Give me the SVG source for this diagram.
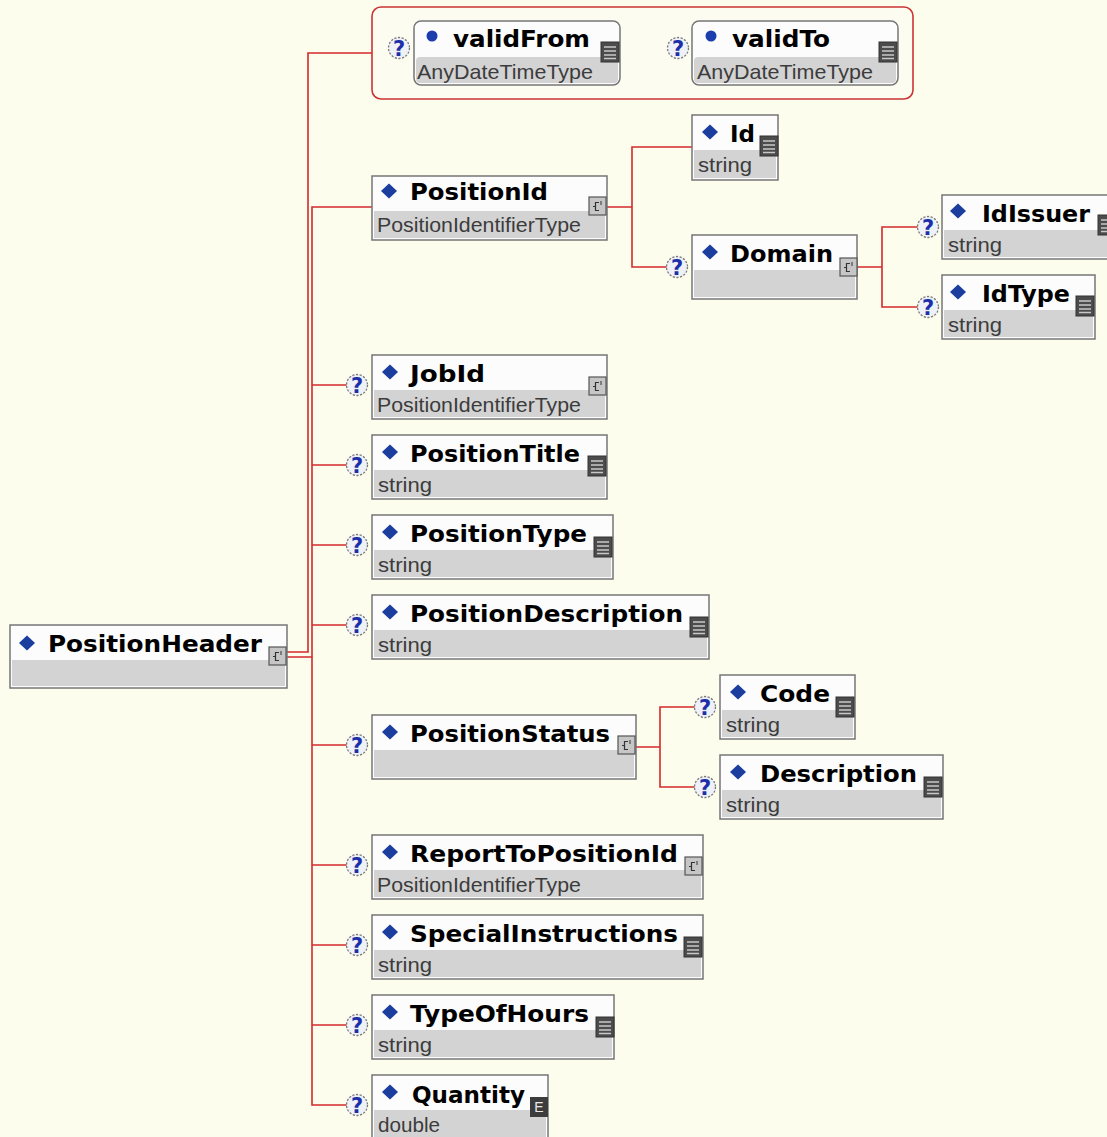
<svg xmlns="http://www.w3.org/2000/svg" width="1107" height="1137" viewBox="0 0 1107 1137">
<style>
.bg{fill:#fdfdee}
.bx{fill:#fcfcfc;stroke:#767676;stroke-width:1.5}
.gr{fill:#d3d3d3}
.nm{font-family:"DejaVu Sans",Verdana,sans-serif;font-weight:bold;font-size:23px;fill:#000}
.ty{font-family:"Liberation Sans",Arial,sans-serif;font-size:21px;fill:#3c3c3c}
.cn{fill:none;stroke:#d22a2a;stroke-width:1.6}
.qc{fill:#eef1f8;stroke:#7a7a7a;stroke-width:1.3;stroke-dasharray:2.2 1.5}
.qt{font-family:"DejaVu Sans",Verdana,sans-serif;font-weight:bold;font-size:21px;fill:#1d2fa8;text-anchor:middle}
.et{font-family:"Liberation Sans",Arial,sans-serif;font-size:14px;fill:#e8e8e8;text-anchor:middle}
</style>
<defs>
<path id="dia" d="M0,-7.5 L8,0 L0,7.5 L-8,0Z" fill="#1b3d9e"/>
<circle id="bul" r="5.5" fill="#1b3dae"/>
<g id="doc"><rect x="0" y="0" width="18" height="20" fill="#4c4c4c" stroke="#333" stroke-width="1"/><path d="M3,5H15M3,9H15M3,13H15M3,16.5H15" stroke="#c8c8c8" stroke-width="1.3"/></g>
<g id="cpx"><rect x="0" y="0" width="17" height="18" fill="#c6c6c6" stroke="#555" stroke-width="1.2"/><path d="M10,5.5H6.5V13.5H10M6.5,9.5H4" fill="none" stroke="#333" stroke-width="1.2"/><path d="M11,5H13M11,7H13" stroke="#333" stroke-width="1"/></g>
<circle id="qc" r="10.5" class="qc"/>
</defs>
<rect class="bg" x="0" y="0" width="1107" height="1137"/>

<g id="connectors">
<path class="cn" d="M287,652H308V53H372"/>
<path class="cn" d="M287,657H312V207H372"/>
<path class="cn" d="M312,657V1105H347"/>
<path class="cn" d="M312,385H347M312,465H347M312,545H347M312,625H347M312,745H347M312,865H347M312,945H347M312,1025H347"/>
<path class="cn" d="M606,207H632V147H692M632,207V267H667"/>
<path class="cn" d="M857,267H882V227H918M882,267V307H918"/>
<path class="cn" d="M636,747H660V707H695M660,747V787H695"/>
</g>

<g id="attributes">
<rect x="372" y="7" width="541" height="92" rx="9" fill="#fdfcf0" stroke="#cc3333" stroke-width="1.6"/>
</g>

<g id="validFrom">
<use href="#qc" x="399" y="48"/><text class="qt" x="399" y="56">?</text>
<rect class="bx" x="414" y="21" width="206" height="64" rx="7"/>
<rect class="gr" x="416" y="57" width="202" height="26" rx="4"/>
<use href="#bul" x="432" y="36"/>
<text class="nm" x="453" y="47" textLength="137" lengthAdjust="spacingAndGlyphs">validFrom</text>
<text class="ty" x="417" y="79" textLength="176" lengthAdjust="spacingAndGlyphs">AnyDateTimeType</text>
<use href="#doc" x="601" y="42"/>
</g>

<g id="validTo">
<use href="#qc" x="678" y="48"/><text class="qt" x="678" y="56">?</text>
<rect class="bx" x="692" y="21" width="206" height="64" rx="7"/>
<rect class="gr" x="694" y="57" width="202" height="26" rx="4"/>
<use href="#bul" x="711" y="36"/>
<text class="nm" x="732" y="47" textLength="98" lengthAdjust="spacingAndGlyphs">validTo</text>
<text class="ty" x="697" y="79" textLength="176" lengthAdjust="spacingAndGlyphs">AnyDateTimeType</text>
<use href="#doc" x="879" y="42"/>
</g>

<g id="PositionHeader">
<rect class="bx" x="10" y="625" width="277" height="63"/>
<rect class="gr" x="12" y="660" width="273" height="26"/>
<use href="#dia" x="27" y="643"/>
<text class="nm" x="48" y="652" textLength="214" lengthAdjust="spacingAndGlyphs">PositionHeader</text>
<use href="#cpx" x="269" y="647"/>
</g>

<g id="PositionId">
<rect class="bx" x="372" y="176" width="235" height="64"/>
<rect class="gr" x="374" y="211" width="231" height="27"/>
<use href="#dia" x="389" y="191"/>
<text class="nm" x="410" y="200" textLength="138" lengthAdjust="spacingAndGlyphs">PositionId</text>
<text class="ty" x="377" y="232" textLength="204" lengthAdjust="spacingAndGlyphs">PositionIdentifierType</text>
<use href="#cpx" x="589" y="197"/>
</g>

<g id="Id">
<rect class="bx" x="692" y="115" width="86" height="65"/>
<rect class="gr" x="694" y="150" width="82" height="28"/>
<use href="#dia" x="710" y="132"/>
<text class="nm" x="730" y="142" textLength="25" lengthAdjust="spacingAndGlyphs">Id</text>
<text class="ty" x="698" y="172" textLength="54" lengthAdjust="spacingAndGlyphs">string</text>
<use href="#doc" x="760" y="136"/>
</g>

<g id="Domain">
<use href="#qc" x="677" y="267"/><text class="qt" x="677" y="275">?</text>
<rect class="bx" x="692" y="235" width="165" height="64"/>
<rect class="gr" x="694" y="270" width="161" height="27"/>
<use href="#dia" x="710" y="252"/>
<text class="nm" x="730" y="262" textLength="103" lengthAdjust="spacingAndGlyphs">Domain</text>
<use href="#cpx" x="840" y="258"/>
</g>

<g id="IdIssuer">
<use href="#qc" x="928" y="227"/><text class="qt" x="928" y="235">?</text>
<rect class="bx" x="942" y="195" width="172" height="64"/>
<rect class="gr" x="944" y="230" width="168" height="27"/>
<use href="#dia" x="958" y="211"/>
<text class="nm" x="982" y="222" textLength="108" lengthAdjust="spacingAndGlyphs">IdIssuer</text>
<text class="ty" x="948" y="252" textLength="54" lengthAdjust="spacingAndGlyphs">string</text>
<use href="#doc" x="1098" y="215"/>
</g>

<g id="IdType">
<use href="#qc" x="928" y="307"/><text class="qt" x="928" y="315">?</text>
<rect class="bx" x="942" y="275" width="153" height="64"/>
<rect class="gr" x="944" y="310" width="149" height="27"/>
<use href="#dia" x="958" y="292"/>
<text class="nm" x="982" y="302" textLength="88" lengthAdjust="spacingAndGlyphs">IdType</text>
<text class="ty" x="948" y="332" textLength="54" lengthAdjust="spacingAndGlyphs">string</text>
<use href="#doc" x="1076" y="296"/>
</g>

<g id="JobId">
<use href="#qc" x="357" y="385"/><text class="qt" x="357" y="393">?</text>
<rect class="bx" x="372" y="355" width="235" height="64"/>
<rect class="gr" x="374" y="390" width="231" height="27"/>
<use href="#dia" x="390" y="372"/>
<text class="nm" x="410" y="382" textLength="75" lengthAdjust="spacingAndGlyphs">JobId</text>
<text class="ty" x="377" y="412" textLength="204" lengthAdjust="spacingAndGlyphs">PositionIdentifierType</text>
<use href="#cpx" x="589" y="377"/>
</g>

<g id="PositionTitle">
<use href="#qc" x="357" y="465"/><text class="qt" x="357" y="473">?</text>
<rect class="bx" x="372" y="435" width="235" height="64"/>
<rect class="gr" x="374" y="470" width="231" height="27"/>
<use href="#dia" x="390" y="452"/>
<text class="nm" x="410" y="462" textLength="170" lengthAdjust="spacingAndGlyphs">PositionTitle</text>
<text class="ty" x="378" y="492" textLength="54" lengthAdjust="spacingAndGlyphs">string</text>
<use href="#doc" x="588" y="456"/>
</g>

<g id="PositionType">
<use href="#qc" x="357" y="545"/><text class="qt" x="357" y="553">?</text>
<rect class="bx" x="372" y="515" width="241" height="64"/>
<rect class="gr" x="374" y="550" width="237" height="27"/>
<use href="#dia" x="390" y="532"/>
<text class="nm" x="410" y="542" textLength="177" lengthAdjust="spacingAndGlyphs">PositionType</text>
<text class="ty" x="378" y="572" textLength="54" lengthAdjust="spacingAndGlyphs">string</text>
<use href="#doc" x="594" y="537"/>
</g>

<g id="PositionDescription">
<use href="#qc" x="357" y="625"/><text class="qt" x="357" y="633">?</text>
<rect class="bx" x="372" y="595" width="337" height="64"/>
<rect class="gr" x="374" y="630" width="333" height="27"/>
<use href="#dia" x="390" y="612"/>
<text class="nm" x="410" y="622" textLength="273" lengthAdjust="spacingAndGlyphs">PositionDescription</text>
<text class="ty" x="378" y="652" textLength="54" lengthAdjust="spacingAndGlyphs">string</text>
<use href="#doc" x="690" y="617"/>
</g>

<g id="PositionStatus">
<use href="#qc" x="357" y="745"/><text class="qt" x="357" y="753">?</text>
<rect class="bx" x="372" y="715" width="264" height="64"/>
<rect class="gr" x="374" y="750" width="260" height="27"/>
<use href="#dia" x="390" y="732"/>
<text class="nm" x="410" y="742" textLength="200" lengthAdjust="spacingAndGlyphs">PositionStatus</text>
<use href="#cpx" x="618" y="736"/>
</g>

<g id="Code">
<use href="#qc" x="705" y="707"/><text class="qt" x="705" y="715">?</text>
<rect class="bx" x="720" y="675" width="135" height="64"/>
<rect class="gr" x="722" y="710" width="131" height="27"/>
<use href="#dia" x="738" y="692"/>
<text class="nm" x="760" y="702" textLength="70" lengthAdjust="spacingAndGlyphs">Code</text>
<text class="ty" x="726" y="732" textLength="54" lengthAdjust="spacingAndGlyphs">string</text>
<use href="#doc" x="836" y="697"/>
</g>

<g id="Description">
<use href="#qc" x="705" y="787"/><text class="qt" x="705" y="795">?</text>
<rect class="bx" x="720" y="755" width="223" height="64"/>
<rect class="gr" x="722" y="790" width="219" height="27"/>
<use href="#dia" x="738" y="772"/>
<text class="nm" x="760" y="782" textLength="157" lengthAdjust="spacingAndGlyphs">Description</text>
<text class="ty" x="726" y="812" textLength="54" lengthAdjust="spacingAndGlyphs">string</text>
<use href="#doc" x="924" y="777"/>
</g>

<g id="ReportToPositionId">
<use href="#qc" x="357" y="865"/><text class="qt" x="357" y="873">?</text>
<rect class="bx" x="372" y="835" width="331" height="64"/>
<rect class="gr" x="374" y="870" width="327" height="27"/>
<use href="#dia" x="390" y="852"/>
<text class="nm" x="410" y="862" textLength="268" lengthAdjust="spacingAndGlyphs">ReportToPositionId</text>
<text class="ty" x="377" y="892" textLength="204" lengthAdjust="spacingAndGlyphs">PositionIdentifierType</text>
<use href="#cpx" x="685" y="857"/>
</g>

<g id="SpecialInstructions">
<use href="#qc" x="357" y="945"/><text class="qt" x="357" y="953">?</text>
<rect class="bx" x="372" y="915" width="331" height="64"/>
<rect class="gr" x="374" y="950" width="327" height="27"/>
<use href="#dia" x="390" y="932"/>
<text class="nm" x="410" y="942" textLength="268" lengthAdjust="spacingAndGlyphs">SpecialInstructions</text>
<text class="ty" x="378" y="972" textLength="54" lengthAdjust="spacingAndGlyphs">string</text>
<use href="#doc" x="684" y="937"/>
</g>

<g id="TypeOfHours">
<use href="#qc" x="357" y="1025"/><text class="qt" x="357" y="1033">?</text>
<rect class="bx" x="372" y="995" width="242" height="64"/>
<rect class="gr" x="374" y="1030" width="238" height="27"/>
<use href="#dia" x="390" y="1012"/>
<text class="nm" x="410" y="1022" textLength="179" lengthAdjust="spacingAndGlyphs">TypeOfHours</text>
<text class="ty" x="378" y="1052" textLength="54" lengthAdjust="spacingAndGlyphs">string</text>
<use href="#doc" x="596" y="1017"/>
</g>

<g id="Quantity">
<use href="#qc" x="357" y="1105"/><text class="qt" x="357" y="1113">?</text>
<rect class="bx" x="372" y="1075" width="176" height="66"/>
<rect class="gr" x="374" y="1110" width="172" height="29"/>
<use href="#dia" x="390" y="1092"/>
<text class="nm" x="412" y="1103" textLength="113" lengthAdjust="spacingAndGlyphs">Quantity</text>
<text class="ty" x="378" y="1132" textLength="62" lengthAdjust="spacingAndGlyphs">double</text>
<rect x="530" y="1097" width="18" height="20" fill="#3c3c3c"/>
<text class="et" x="539" y="1112">E</text>
</g>
</svg>
